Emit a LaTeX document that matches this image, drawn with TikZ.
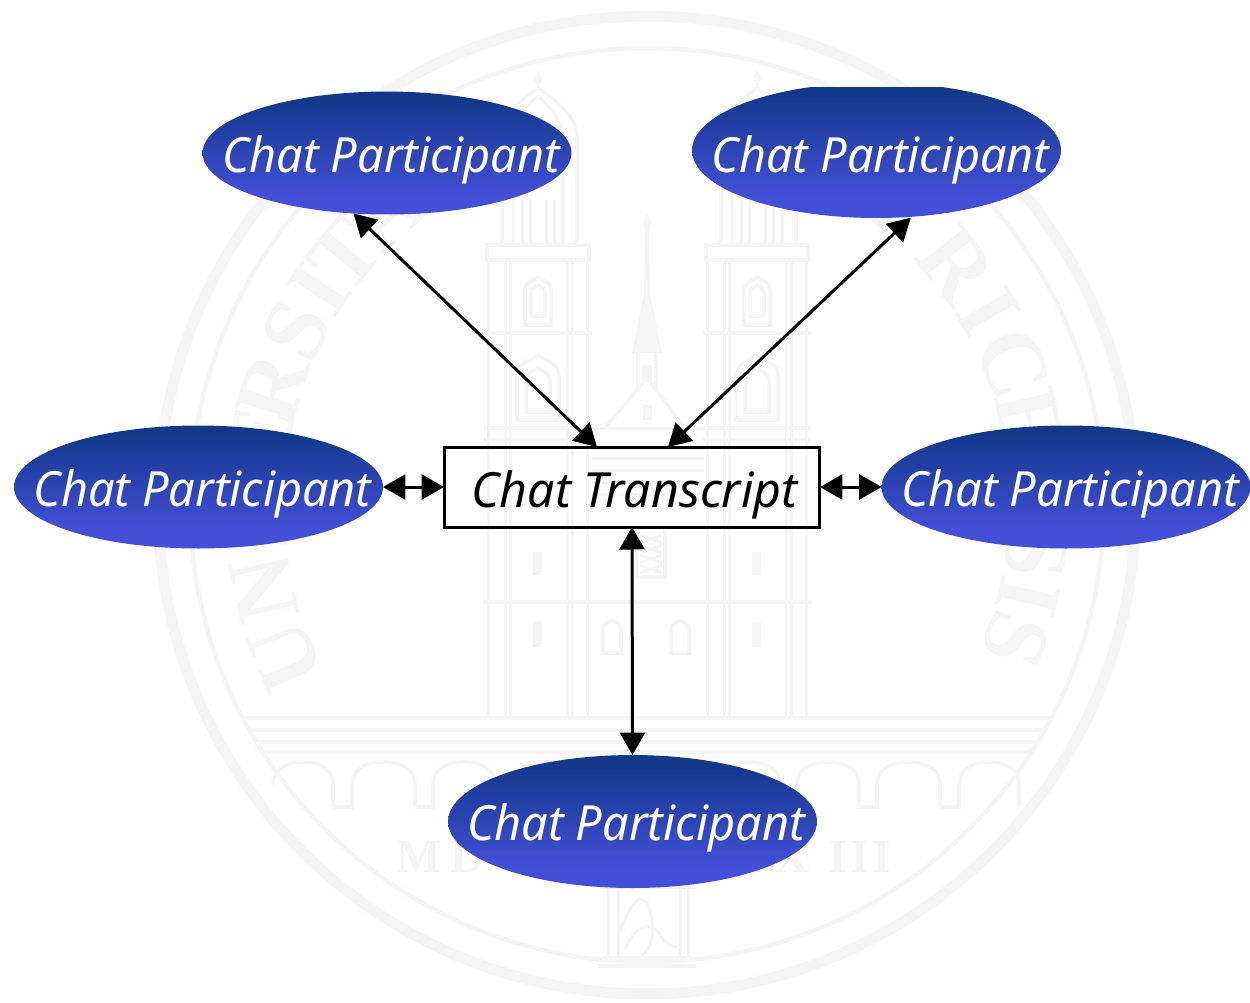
\documentclass[tikz,border=0pt]{standalone}
\usepackage{fontspec}
\setmainfont{Noto Sans}
\newfontfamily\sealfont{Liberation Serif}
\usetikzlibrary{arrows.meta,shapes.geometric,calc}
\definecolor{seal}{HTML}{F5F5F5}
\definecolor{ptop}{HTML}{12388A}
\definecolor{pbot}{HTML}{434FD6}
\pgfdeclareverticalshading{pshade}{100bp}{color(0bp)=(pbot);color(25bp)=(pbot);color(33bp)=(pbot);color(72bp)=(ptop);color(75bp)=(ptop);color(100bp)=(ptop)}
\newcommand\labeltext[4]{\makebox[0pt]{\raisebox{#2}[0pt][0pt]{\hspace*{#1}\scalebox{#3}[1]{\fontsize{27.6pt}{30pt}\selectfont\itshape #4}}}}
\newcommand\sealwin[4]{\draw[sealline] ({#1-#4},#3) -- ({#1-#4},{#2+#4}) .. controls ({#1-#4},{#2+0.4*#4}) and ({#1-0.4*#4},{#2+0.3*#4}) .. (#1,#2) .. controls ({#1+0.4*#4},{#2+0.3*#4}) and ({#1+#4},{#2+0.4*#4}) .. ({#1+#4},{#2+#4}) -- ({#1+#4},#3) -- cycle;}
\newcommand\sealtower{%
  % roof
  \fill[seal] (538,70) -- (542,78) -- (538,90) -- (534,78) -- cycle;
  \draw[sealline] (502,245) -- (502,135) .. controls (503,115) and (520,100) .. (538,88) .. controls (556,100) and (575,115) .. (577,135) -- (577,245);
  \draw[sealthin] (513,245) -- (513,135) .. controls (515,118) and (528,105) .. (538,96);
  \draw[sealthin] (563,245) -- (563,135) .. controls (561,118) and (548,105) .. (538,96);
  \foreach \vx in {522,530,546,554} \draw[sealthin] (\vx,245) -- (\vx,200);
  % cornices
  \draw[sealline] (487,245) rectangle (589,260);
  \draw[sealline] (484,333) -- (592,333);
  \draw[sealline] (484,428) -- (592,428);
  \draw[sealline] (484,440) -- (592,440);
  % shaft
  \foreach \vx in {488,505,510,567,572,587} {
    \draw[sealthin] (\vx,260) -- (\vx,717);
  }
  \sealwin{538}{277}{325}{13}
  \sealwin{538}{285}{316}{7}
  \sealwin{538}{355}{420}{21}
  \sealwin{538}{368}{412}{12}
  \fill[seal] (533,552) -- (542,552) -- (542,575) -- (533,575) -- cycle;
  \fill[seal] (533,622) -- (542,622) -- (542,647) -- (533,647) -- cycle;
}
\tikzset{
  sealline/.style={draw=seal,line width=0.07cm},
  sealthin/.style={draw=seal,line width=0.06cm},
  participant/.style={ellipse,inner sep=0pt,outer sep=0pt,minimum width=7.38cm,minimum height=2.46cm,shading=pshade,text=white},
  transcript/.style={rectangle,draw=black,line width=0.06cm,inner sep=0pt,outer sep=0pt,minimum width=7.52cm,minimum height=1.6cm,text=black},
  link/.style={draw=black,line width=0.06cm,{Triangle[length=0.45cm,width=0.5cm]}-{Triangle[length=0.45cm,width=0.5cm]}},
}
\begin{document}
\begin{tikzpicture}[x=0.02cm,y=-0.02cm]
\useasboundingbox (0,0) rectangle (1250,1002);
% watermark seal
\draw[seal,line width=0.22cm] (647,505) circle[radius=9.78cm];
\draw[seal,line width=0.09cm] (647,505) circle[radius=9.14cm];
\foreach \ltr/\ang in {U/202.7,N/192.4,I/184,V/177,E/170,R/162.6,S/153.5,I/146.6,T/140.3,A/131.5,S/122,T/62,U/51,R/37.8,I/29.4,C/21.1,E/12.6,N/2.5,S/-7,I/-13.5,S/-20}
  \node[text=seal,font=\sealfont\bfseries\fontsize{52pt}{52pt}\selectfont,rotate=\ang-90,inner sep=0pt] at ({647+392*cos(\ang)},{505-392*sin(\ang)}) {\ltr};
\foreach \ltr/\lx in {M/419,D/468,C/513,C/558,C/603,X/650,X/697,X/745,X/793,I/838,I/860,I/882}
  \node[text=seal,font=\sealfont\bfseries\fontsize{27pt}{27pt}\selectfont,inner sep=0pt] at (\lx,857) {\ltr};
\begin{scope}
  \clip (647,505) circle[radius=9.12cm];
  \foreach \ly in {718,730,742,752} \draw[sealline] (150,\ly) -- (1150,\ly);
\end{scope}
\foreach \ax/\bx in {273/333,352/415,433/495,513/575,718/780,797/859,877/940,959/1019} {
  \draw[sealline] (\ax,785) .. controls (\ax,770) and ({\ax+12},762) .. ({(\ax+\bx)/2},762) .. controls ({\bx-12},762) and (\bx,770) .. (\bx,785) -- (\bx,807);
}
\foreach \px/\qx in {333/352,415/433,495/513,780/797,859/877,940/959} \draw[sealline] (\px,807) -- (\qx,807) -- (\qx,785);
\sealtower
\begin{scope}[shift={(219,0)}]\sealtower\end{scope}
% centre nave and spire
\fill[seal] (647,214) -- (651,222) -- (649,230) -- (650,293) -- (662,353) -- (632,353) -- (644,293) -- (645,230) -- (643,222) -- cycle;
\draw[sealline] (638,353) -- (638,392); \draw[sealline] (656,353) -- (656,392);
\draw[sealline] (605,428) -- (647,378) -- (685,428);
\draw[sealthin] (592,428) -- (704,428);
\foreach \ly in {448,458,470,482,494} \draw[sealthin] (592,\ly) -- (704,\ly);
\fill[seal] (642,365) rectangle (652,380);
\fill[seal] (643,405) rectangle (652,420);
\draw[sealline] (483,602) -- (812,602);
\draw[sealline] (637,530) -- (637,577) -- (665,577) -- (665,530);
\foreach \ly in {535,545,555,565} \draw[sealthin] (640,\ly) -- (662,{\ly+8});
\foreach \ly in {535,545,555,565} \draw[sealthin] (662,\ly) -- (640,{\ly+8});
\sealwin{612}{620}{653}{9}
\sealwin{680}{620}{653}{9}
% emblem at the foot
\draw[sealline] (600,887) -- (696,887);
\draw[sealthin] (608,889) -- (608,958); \draw[sealthin] (618,889) -- (618,958);
\draw[sealthin] (680,889) -- (680,958); \draw[sealthin] (688,889) -- (688,958);
\draw[sealline] (602,958) -- (692,958); \draw[sealline] (598,966) -- (696,966);
\draw[sealthin] (618,935) .. controls (630,905) and (640,890) .. (648,905) .. controls (655,925) and (655,945) .. (642,955);
\draw[sealthin] (625,950) .. controls (635,925) and (650,920) .. (660,935) .. controls (668,945) and (675,950) .. (680,945);
% diagram
\node[transcript] (t) at (632,487) {\labeltext{0.1cm}{-0.4cm}{0.995}{Chat Transcript}};
\node[participant] (tl) at (387,153) {\labeltext{0.16cm}{-0.38cm}{0.965}{Chat Participant}};
\begin{scope}
  \clip (600,87) rectangle (1150,300);
  \node[participant,minimum height=2.708cm] (tr) at (876.5,150.3) {\labeltext{0.16cm}{-0.44cm}{0.965}{Chat Participant}};
\end{scope}
\node[participant] (l) at (198.5,487) {\labeltext{0.16cm}{-0.38cm}{0.965}{Chat Participant}};
\node[participant] (r) at (1066,487) {\labeltext{0.16cm}{-0.38cm}{0.965}{Chat Participant}};
\node[participant,minimum height=2.66cm] (b) at (632.5,821.5) {\labeltext{0.14cm}{-0.38cm}{0.965}{Chat Participant}};
\draw[link] (tl.241) -- ([xshift=-0.7cm]t.north);
\draw[link,shorten <=0.03cm] (tr.298) -- ([xshift=0.72cm]t.north);
\draw[link] (l.east) -- (t.west);
\draw[link] (t.east) -- (r.west);
\draw[link] (t.south) -- (b.north);
\end{tikzpicture}
\end{document}
